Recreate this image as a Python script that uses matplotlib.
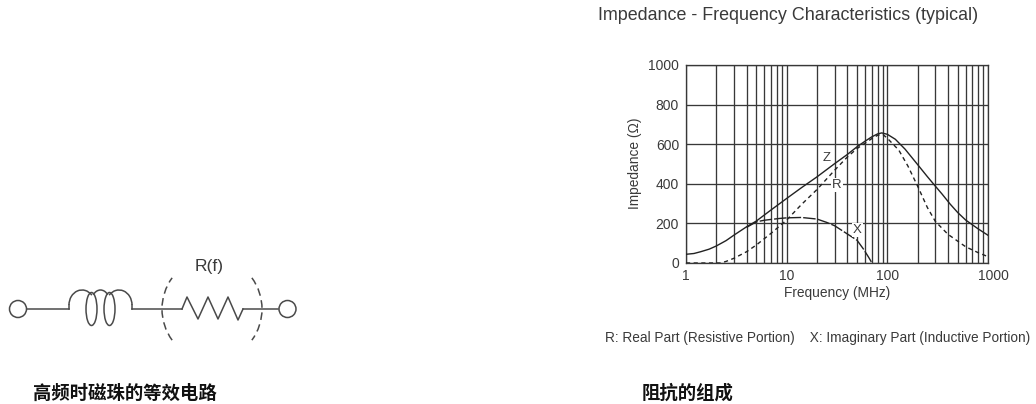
import matplotlib
matplotlib.use("Agg")
import matplotlib.pyplot as plt
from matplotlib import ticker, transforms
import numpy as np
from matplotlib.patches import Circle, Arc, Ellipse

plt.rcParams['font.family'] = ['Liberation Sans', 'DejaVu Sans']

W, H = 1036, 404
z_f = [1, 1.2, 1.4, 1.7, 2, 2.5, 3, 4, 5, 7, 10, 14, 20, 30, 40, 50, 60, 70, 80, 88, 100, 120, 150, 200, 250, 300, 350, 420, 500, 600, 800, 1000]
z_v = [44, 48, 57, 70, 86, 113, 141, 183, 212, 268, 326, 380, 435, 502, 548, 587, 615, 637, 652, 657, 650, 625, 575, 497, 436, 388, 348, 298, 255, 217, 172, 140]
r_f = [1, 2.2, 2.5, 3, 4, 5, 7, 10, 14, 20, 30, 40, 50, 60, 70, 80, 90, 100, 130, 160, 200, 250, 300, 400, 600, 800, 1000]
r_v = [0, 0, 8, 24, 57, 91, 150, 217, 295, 371, 469, 535, 578, 605, 628, 645, 650, 630, 570, 490, 388, 280, 210, 145, 82, 52, 32]
x_f = [4, 5, 6, 7, 8.5, 10, 14, 20, 25, 30, 37, 50, 58, 65, 70]
x_v = [180, 208, 216, 220, 225, 228, 230, 222, 205, 188, 158, 115, 70, 30, 2]
y_ticks = [0, 200, 400, 600, 800, 1000]
x_ticks = [1, 10, 100, 1000]
x_labels = ['1', '10', '100', '1000']
title = "Impedance - Frequency Characteristics (typical)"
note = "R: Real Part (Resistive Portion)    X: Imaginary Part (Inductive Portion)"
cap_left = "高频时磁珠的等效电路"
cap_right = "阻抗的组成"

fig = plt.figure(figsize=(W/100, H/100), dpi=100, facecolor='white')
c = '#383838'
tc = '#3a3a3a'

# chart
ax = fig.add_axes([686/W, 1-263/H, 302/W, 198/H])
ax.set_xscale('log')
ax.set_xlim(1, 1000)
ax.set_ylim(0, 1000)
ax.set_yticks(y_ticks)
ax.set_xticks(x_ticks)
ax.set_xticklabels(x_labels)
ax.xaxis.set_minor_locator(ticker.LogLocator(base=10, subs=np.arange(2, 10), numticks=10))
ax.xaxis.set_minor_formatter(ticker.NullFormatter())
ax.grid(True, which='both', color=c, lw=0.95)
ax.set_axisbelow(True)
ax.tick_params(which='both', length=0, labelsize=10, colors=tc, pad=5)
ax.tick_params(axis='x', pad=4)
last = ax.get_xticklabels()[-1]
last.set_transform(last.get_transform() + transforms.ScaledTranslation(5/100, 0, fig.dpi_scale_trans))
for s in ax.spines.values():
    s.set_color(c)
    s.set_linewidth(0.95)
ax.plot(z_f, z_v, color='#222222', lw=1.0, zorder=3)
ax.plot(r_f, r_v, color='#222222', lw=1.0, ls=(0, (3, 2.5)), zorder=3)
ax.plot(x_f, x_v, color='#222222', lw=1.0, ls=(0, (9, 1.5)), zorder=3)
for t, fx, vy in [('Z', 25, 530), ('R', 31.6, 395), ('X', 50, 165)]:
    ax.text(fx, vy, t, fontsize=9.5, color=tc, ha='center', va='center', zorder=4,
            bbox=dict(fc='white', ec='none', pad=0.8))

# overlay in pixel coordinates
ov = fig.add_axes([0, 0, 1, 1])
ov.set_xlim(0, W)
ov.set_ylim(H, 0)
ov.axis('off')
ov.patch.set_alpha(0)
ov.text(598, 15, title, fontsize=12.85, color=tc, ha='left', va='center')
ov.text(605, 338, note, fontsize=9.8, color=tc, ha='left', va='center')
ov.text(837, 293, "Frequency (MHz)", fontsize=9.9, color=tc, ha='center', va='center')
ov.text(635, 163, "Impedance (Ω)", fontsize=9.9, color=tc, ha='center', va='center', rotation=90)
cjk = ['Noto Sans CJK SC', 'DejaVu Sans']
ov.text(33, 393, cap_left, fontsize=13.2, fontweight='bold', family=cjk, color='#111111', ha='left', va='center')
ov.text(642, 393, cap_right, fontsize=13.2, fontweight='bold', family=cjk, color='#111111', ha='left', va='center')
ov.text(209, 267, "R(f)", fontsize=12.5, color=tc, ha='center', va='center')

lw = 1.1
col = '#4a4a4a'
ov.add_patch(Circle((18, 309), 8.5, fc='none', ec=col, lw=lw))
ov.add_patch(Circle((287.5, 309), 8.5, fc='none', ec=col, lw=lw))
ov.plot([27, 69], [309, 309], color=col, lw=lw)
ov.plot([132, 182], [309, 309], color=col, lw=lw)
ov.plot([243, 278], [309, 309], color=col, lw=lw)
# coil: three humps joined over two loops
ov.add_patch(Arc((82, 305), 26, 30, theta1=180, theta2=315, ec=col, lw=lw))
ov.add_patch(Arc((100.5, 305), 20, 30, theta1=235, theta2=305, ec=col, lw=lw))
ov.add_patch(Arc((119, 305), 26, 30, theta1=225, theta2=360, ec=col, lw=lw))
ov.plot([69, 69], [305, 309], color=col, lw=lw)
ov.plot([132, 132], [305, 309], color=col, lw=lw)
ov.add_patch(Ellipse((91.5, 309), 11, 33, fc='none', ec=col, lw=lw))
ov.add_patch(Ellipse((109.5, 309), 11, 33, fc='none', ec=col, lw=lw))
# resistor
ov.plot([182, 187, 198, 208, 218, 228, 238, 243], [309, 297, 319, 297, 319, 297, 320, 309], color=col, lw=lw)
# dashed arcs
ov.add_patch(Arc((215, 309), 106, 106, theta1=144, theta2=216, ec=col, lw=lw, ls=(0, (5, 3))))
ov.add_patch(Arc((209, 309), 106, 106, theta1=-36, theta2=36, ec=col, lw=lw, ls=(0, (5, 3))))

fig.savefig('out.png', dpi=100)
